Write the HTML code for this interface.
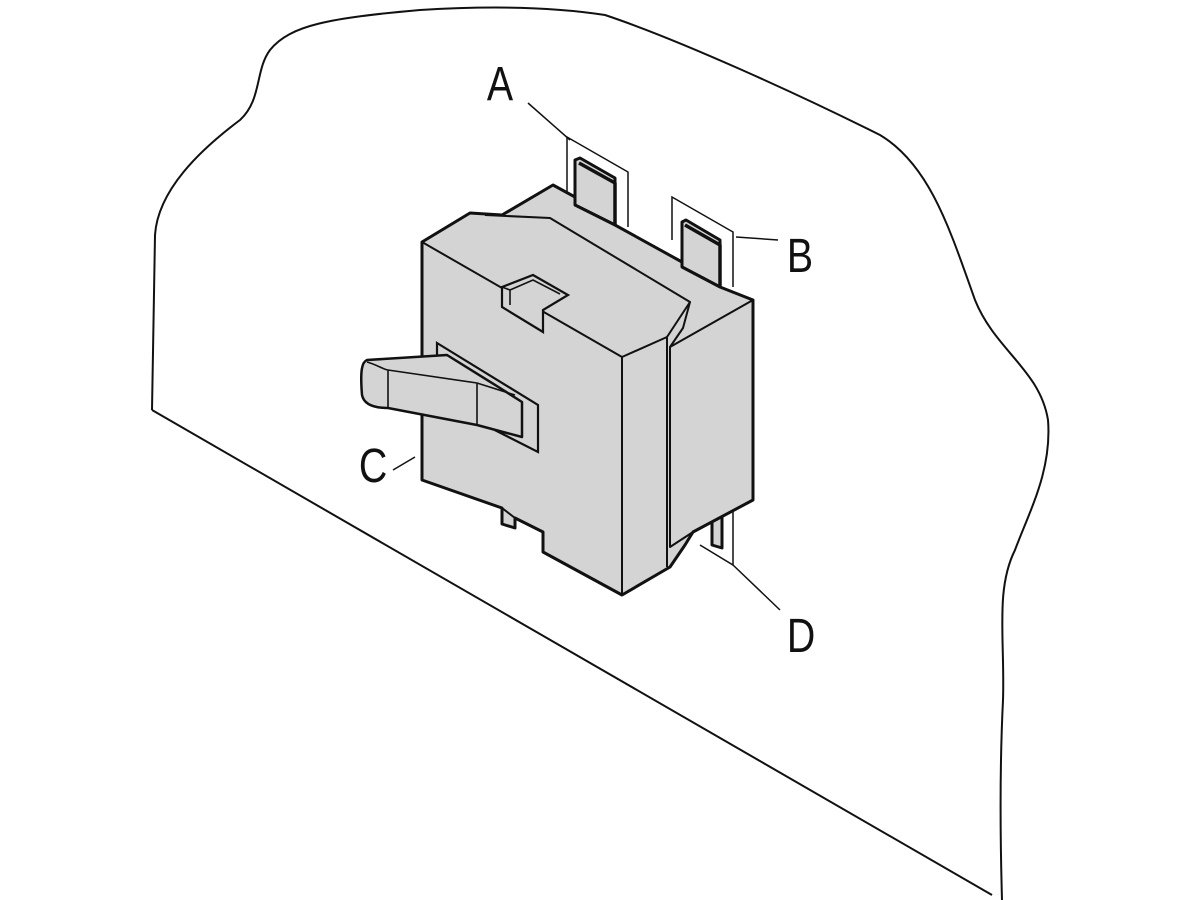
<!DOCTYPE html>
<html><head><meta charset="utf-8"><style>
html,body{margin:0;padding:0;background:#fff;}
svg{display:block;}
text{font-family:"Liberation Sans",sans-serif;fill:#111;}
</style></head><body>
<svg width="1200" height="900" viewBox="0 0 1200 900" xmlns="http://www.w3.org/2000/svg">
<g fill="none" stroke="#111" stroke-width="2" stroke-linejoin="round">
<path d="M152,410 L155,235 C158,190 200,150 240,120 C262,100 255,70 270,50 C290,25 330,18 420,10 C500,5 560,8 605,15 C680,40 800,95 880,135 C930,165 950,230 975,300 C995,350 1040,370 1048,420 C1052,470 1030,510 1015,550 C995,590 1005,640 1003,700 C1000,760 1000,830 1002,900"/>
<path d="M152,410 L992,895"/>
</g>
<g stroke="#111" stroke-width="1.5" fill="none">
<path d="M567,192 L567,137 L628,172 L628,227"/>
<path d="M672,240 L672,197 L733,232 L733,287"/>
<path d="M733,510 L733,565 L700,545"/>
<line x1="528" y1="103" x2="570" y2="140"/>
<line x1="736" y1="237" x2="778" y2="240"/>
<line x1="393" y1="470" x2="415" y2="457"/>
<line x1="733" y1="565" x2="780" y2="610"/>
</g>
<g fill="#d4d4d4" stroke="#111" stroke-width="3" stroke-linejoin="round">
<path d="M575,160 L580,158 L615,178 L615,225 L575,205 Z"/>
<path d="M682,222 L686,220 L720,240 L720,287 L682,267 Z"/>
<path d="M712,512 L722,508 L722,548 L712,545 Z"/>
<path d="M422,242 L470,213 L502,215 L553,185 L575,197 L575,205 L615,225 L682,262 L682,267 L720,287 L753,300 L753,500 L693,532 L685,545 L670,567 L622,595 L543,552 L543,532 L515,518 L515,528 L502,524 L502,508 L422,480 Z"/>
</g>
<g fill="none" stroke="#111" stroke-width="2" stroke-linejoin="round">
<path d="M422,242 L622,357 L622,595"/>
<path d="M622,357 L667,337 L667,567"/>
<path d="M667,337 L690,302 L550,218 L485,215"/>
<path d="M690,302 L683,328 L670,347 L753,300"/>
<path d="M670,347 L670,547 L693,532"/>
<path d="M502,508 L515,518"/>
<path d="M579,163 L615,183 L615,225" stroke-width="3.5"/>
<path d="M685,225 L720,245 L720,287" stroke-width="3.5"/>
</g>
<path d="M502,287 L533,275 L568,295 L543,310 L543,332 L502,307 Z" fill="#d4d4d4" stroke="#111" stroke-width="2.2"/>
<path d="M502,287 L510,290 L510,305 M510,290 L533,280 L560,294" fill="none" stroke="#111" stroke-width="1.6"/>
<path d="M437,343 L538,405 L538,452 L475,420 L437,405 Z" fill="#d4d4d4" stroke="#111" stroke-width="2.2"/>
<path d="M367,360 C362,362 360,370 362,395 C364,405 375,408 388,408 L477,425 L522,437 L522,402 L500,388 L447,355 Z" fill="#d4d4d4" stroke="#111" stroke-width="2.5" stroke-linejoin="round"/>
<path d="M367,362 C375,364 385,370 388,370 L477,383 L515,395 M388,370 L388,408 M477,383 L477,425" fill="none" stroke="#111" stroke-width="1.6"/>
<text x="484" y="100" font-size="48" transform="scale(0.82,1)" transform-origin="500 100">A</text>
<text x="784" y="272" font-size="48" transform="scale(0.82,1)" transform-origin="800 272">B</text>
<text x="356" y="482" font-size="48" transform="scale(0.82,1)" transform-origin="372 482">C</text>
<text x="784" y="652" font-size="48" transform="scale(0.82,1)" transform-origin="800 652">D</text>
</svg>
</body></html>
